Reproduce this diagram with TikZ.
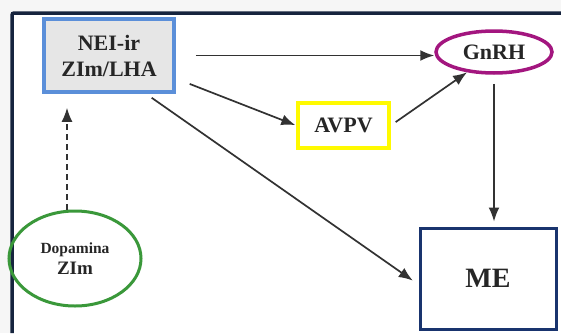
\documentclass[tikz,border=0pt]{standalone}
\usepackage{fontspec}
\setmainfont{Liberation Serif}
\usetikzlibrary{arrows.meta,shapes.geometric}

\definecolor{neiblue}{RGB}{91,143,217}
\definecolor{neigray}{RGB}{230,230,230}
\definecolor{gnrhmag}{RGB}{163,22,127}
\definecolor{avpvyel}{RGB}{255,250,0}
\definecolor{dopagreen}{RGB}{58,152,58}
\definecolor{menavy}{RGB}{25,52,110}
\definecolor{framenavy}{RGB}{22,36,62}
\definecolor{arrowgray}{RGB}{50,50,50}

\begin{document}
\begin{tikzpicture}[x=1pt,y=1pt,
    label/.style={font=\bfseries\fontsize{22}{26}\selectfont, align=center, text=black!85},
    boxnode/.style={label, draw, rectangle, line width=3.5pt},
    ovalnode/.style={label, draw, ellipse, line width=3.5pt, inner sep=0pt},
    link/.style={draw=arrowgray, line width=1.7pt, -{Latex[length=14pt,width=11pt]}},
    dashlink/.style={link, dash pattern=on 6pt off 4pt}]
    \useasboundingbox (0,0) rectangle (561,333);
    \fill[gray!7] (0,0) rectangle (561,333);
    \fill[white] (12,0) rectangle (561,320);
    \draw[framenavy, line width=3.5pt, rounded corners=2pt] (12,0) -- (12,320) -- (562,320);

    \node[boxnode, draw=neiblue, fill=neigray, minimum width=130, minimum height=73] (nei) at (109,277.5) {NEI-ir\\ZIm/LHA};
    \node[ovalnode, draw=gnrhmag, minimum width=116, minimum height=42] (gnrh) at (494,281) {GnRH};
    \node[boxnode, draw=avpvyel, minimum width=91, minimum height=45] (avpv) at (343.5,207.5) {AVPV};
    \node[ovalnode, draw=dopagreen, line width=3pt, minimum width=132, minimum height=95,
          font=\bfseries\fontsize{15.5}{21}\selectfont] (dopa) at (75,74.5)
          {Dopamina\\{\fontsize{19}{21}\selectfont ZIm}};
    \node[boxnode, draw=menavy, line width=3pt, minimum width=136, minimum height=101,
          font=\bfseries\fontsize{28}{30}\selectfont] (me) at (488,54.5) {ME};

    \draw[link, shorten <=20pt] (nei.east) -- (nei.east -| gnrh.west);
    \draw[link, shorten <=15pt, shorten >=1pt] (nei.-19) -- (avpv.west);
    \draw[link, shorten <=6pt] (avpv.east) -- (gnrh.217);
    \draw[link, shorten <=7pt, shorten >=7pt] (nei.-46) -- (me.185);
    \draw[link, shorten <=9pt, shorten >=5pt] (gnrh.south) -- (gnrh.south |- me.north);
    \draw[dashlink, shorten >=14pt] ([xshift=-8pt]dopa.north) -- ([xshift=-8pt]dopa.north |- nei.south);
\end{tikzpicture}
\end{document}
